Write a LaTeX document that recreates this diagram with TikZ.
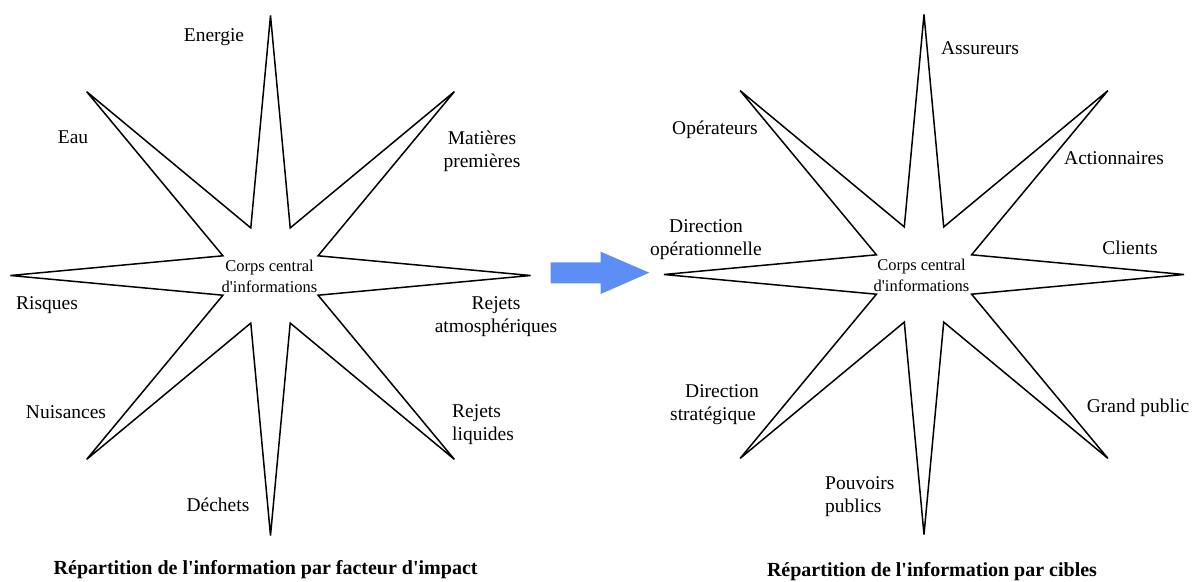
\documentclass[tikz,border=0pt]{standalone}
\usepackage{fontspec}
\setmainfont{Liberation Serif}
\newfontfamily\labfont{Liberation Serif}
\newcommand{\sq}{\char"0027\relax}
\usetikzlibrary{calc}
\definecolor{arrowblue}{RGB}{92,142,245}
\begin{document}
\begin{tikzpicture}[x=1pt,y=-1pt,
  starline/.style={draw=black, line width=1.5pt},
  lbl/.style={inner sep=0pt, font=\labfont\fontsize{19.5}{23}\selectfont, align=center},
  ctr/.style={inner sep=0pt, font=\labfont\fontsize{16.5}{21}\selectfont, align=center},
  capt/.style={inner sep=0pt, font=\labfont\fontsize{20}{24}\selectfont\bfseries}]
\path[use as bounding box] (0,0) rectangle (1201,581);
\fill[white] (0,0) rectangle (1201,581);

% star centres
\coordinate (cl) at (270.5,275.5);
\coordinate (cr) at (924,274.5);

% left star
\draw[starline] ($(cl)+(90:260)$)
  \foreach \k in {0,...,7}{ -- ($(cl)+(112.5+45*\k:51.5)$) -- ($(cl)+(135+45*\k:260)$) } -- cycle;
% right star
\draw[starline] ($(cr)+(90:260)$)
  \foreach \k in {0,...,7}{ -- ($(cr)+(112.5+45*\k:51.5)$) -- ($(cr)+(135+45*\k:260)$) } -- cycle;

% blue block arrow
\fill[arrowblue] (550.7,262.3) -- (600.7,262.3) -- (600.7,251.7) -- (649.3,272.7)
  -- (600.7,294) -- (600.7,283.3) -- (550.7,283.3) -- cycle;

% left labels
\node[lbl] (en) at (214,37) {Energie};
\node[lbl] (eau) at (73,137) {Eau};
\node[lbl] (mat) at (482,151.5) {Matières\\premières};
\node[ctr] (ccl) at (269.5,276) {Corps central\\d\sq informations};
\node[lbl] (ris) at (47,305) {Risques};
\node[lbl] (ratm) at (496,317) {Rejets\\atmosphériques};
\node[lbl] (nui) at (66,412) {Nuisances};
\node[lbl, align=left, anchor=west] (rliq) at (452,425) {Rejets\\liquides};
\node[lbl] (dec) at (218,505) {Déchets};
\node[capt] (capl) at (265.6,570) {Répartition de l\sq information par facteur d\sq impact};

% right labels
\node[lbl] (ass) at (980,48) {Assureurs};
\node[lbl] (op) at (715,130) {Opérateurs};
\node[lbl] (act) at (1114,158) {Actionnaires};
\node[lbl] (dop) at (706,239.5) {Direction\\opérationnelle};
\node[lbl] (cli) at (1130,248) {Clients};
\node[ctr] (ccr) at (921.5,275) {Corps central\\d\sq informations};
\node[lbl] (dstr) at (713,405) {\hspace*{18pt}Direction\\stratégique};
\node[lbl] (gp) at (1138,408) {Grand public};
\node[lbl, align=left, anchor=west] (pp) at (825,497) {Pouvoirs\\publics};
\node[capt] (capr) at (932,571.5) {Répartition de l\sq information par cibles};
\end{tikzpicture}
\end{document}
